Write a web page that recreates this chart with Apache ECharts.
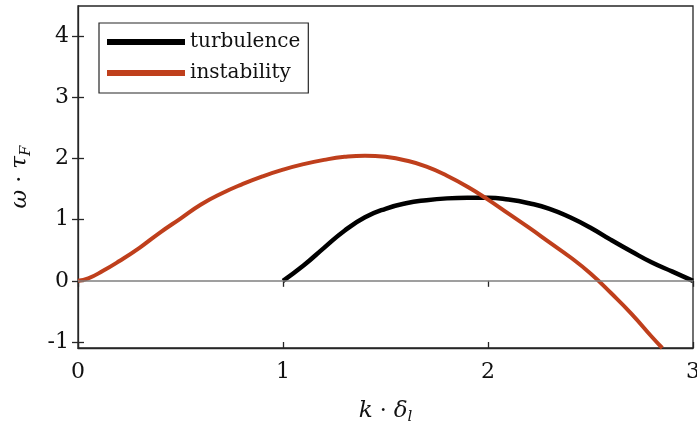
<!DOCTYPE html>
<html>
<head>
<meta charset="utf-8">
<script src="https://cdn.jsdelivr.net/npm/echarts@6/dist/echarts.min.js"></script>
<style>
  html, body { margin: 0; padding: 0; background: #fff; }
  #chart { width: 697px; height: 426px; }
</style>
</head>
<body>
<div id="chart"></div>
<script>
// values
const turbX = [1.0, 1.1, 1.2, 1.3, 1.4, 1.5, 1.6, 1.7, 1.8, 1.9, 2.0, 2.1, 2.2, 2.3, 2.4, 2.5, 2.6, 2.7, 2.8, 2.9, 3.0];
const turbY = [0, 0.25, 0.54, 0.82, 1.04, 1.18, 1.27, 1.32, 1.35, 1.36, 1.36, 1.33, 1.27, 1.18, 1.04, 0.87, 0.67, 0.48, 0.30, 0.15, 0.0];

const instX = [0, 0.05, 0.12, 0.2, 0.3, 0.4, 0.5, 0.6, 0.7, 0.8, 0.9, 1.0, 1.1, 1.2, 1.3, 1.4, 1.5, 1.6, 1.7, 1.8, 1.9, 2.0, 2.1, 2.2, 2.3, 2.4, 2.5, 2.6, 2.7, 2.8, 2.85];
const instY = [0, 0.04, 0.16, 0.32, 0.54, 0.79, 1.02, 1.25, 1.43, 1.58, 1.71, 1.82, 1.91, 1.98, 2.03, 2.05, 2.03, 1.97, 1.87, 1.72, 1.54, 1.33, 1.1, 0.87, 0.63, 0.39, 0.12, -0.2, -0.54, -0.92, -1.1];

const xTicks = [0, 1, 2, 3];
const yTicks = [-1, 0, 1, 2, 3, 4];

const serif = '"DejaVu Serif", "Liberation Serif", serif';
const axisCol = '#262626';

function pairs(xs, ys) {
    return xs.map((x, i) => [x, ys[i]]);
}

let chart = echarts.init(document.getElementById('chart'));

let nameRich = {
    i: { fontFamily: serif, fontStyle: 'italic', fontSize: 23, color: '#111' },
    sub: { fontFamily: serif, fontStyle: 'italic', fontSize: 15, verticalAlign: 'bottom', padding: [12, 0, 0, 0], color: '#111' }
};

let option = {
    backgroundColor: '#fff',
    animation: false,
    grid: {
        left: 78, right: 4, top: 6, bottom: 78,
        outerBoundsMode: 'none',
        show: true, borderColor: axisCol, borderWidth: 1.3, backgroundColor: 'transparent'
    },
    legend: {
        orient: 'vertical',
        left: 99, top: 23,
        padding: [9, 8, 10, 8],
        itemWidth: 78, itemHeight: 6,
        itemGap: 11,
        itemTextGap: 5,
        icon: 'rect',
        borderColor: axisCol, borderWidth: 1.2,
        textStyle: { fontFamily: serif, fontSize: 20, color: '#111' },
        data: ['turbulence', 'instability']
    },
    xAxis: [{
        type: 'value', min: 0, max: 3,
        name: '{i|k} · {i|δ}{sub|l}',
        nameLocation: 'middle', nameGap: 50,
        nameTextStyle: { fontFamily: serif, fontSize: 22, color: '#111', rich: nameRich },
        axisLine: { onZero: false, lineStyle: { color: axisCol, width: 1.3 } },
        axisTick: { inside: true, length: 6, customValues: xTicks, lineStyle: { color: axisCol, width: 1.3 } },
        axisLabel: { customValues: xTicks, margin: 13, fontFamily: serif, fontSize: 22, color: '#111' },
        splitLine: { show: false }
    }, {
        type: 'value', min: 0, max: 3, position: 'top',
        axisLine: { show: false },
        axisTick: { inside: true, length: 6, customValues: xTicks, lineStyle: { color: axisCol, width: 1.3 } },
        axisLabel: { show: false },
        splitLine: { show: false }
    }],
    yAxis: [{
        type: 'value', min: -1.1, max: 4.5,
        name: '{i|ω} · {i|τ}{sub|F}',
        nameLocation: 'middle', nameGap: 44, nameRotate: 90,
        nameTextStyle: { fontFamily: serif, fontSize: 22, color: '#111', rich: nameRich },
        axisLine: { onZero: false, lineStyle: { color: axisCol, width: 1.3 } },
        axisTick: { inside: true, length: 6, customValues: yTicks, lineStyle: { color: axisCol, width: 1.3 } },
        axisLabel: { customValues: yTicks, margin: 9, fontFamily: serif, fontSize: 22, color: '#111' },
        splitLine: { show: false }
    }, {
        type: 'value', min: -1.1, max: 4.5, position: 'right',
        axisLine: { show: false },
        axisTick: { inside: true, length: 6, customValues: yTicks, lineStyle: { color: axisCol, width: 1.3 } },
        axisLabel: { show: false },
        splitLine: { show: false }
    }],
    series: [{
        name: 'turbulence',
        type: 'line',
        data: pairs(turbX, turbY),
        smooth: 0.5,
        showSymbol: false,
        color: '#000',
        lineStyle: { color: '#000', width: 4.5 },
        z: 3,
        markLine: {
            silent: true, symbol: 'none', label: { show: false },
            lineStyle: { color: '#7f7f7f', width: 1.5, type: 'solid' },
            data: [{ yAxis: 0 }]
        }
    }, {
        name: 'instability',
        type: 'line',
        data: pairs(instX, instY),
        smooth: 0.5,
        showSymbol: false,
        color: '#bf3f1c',
        lineStyle: { color: '#bf3f1c', width: 4 },
        z: 4
    }]
};

chart.setOption(option);
</script>
</body>
</html>
